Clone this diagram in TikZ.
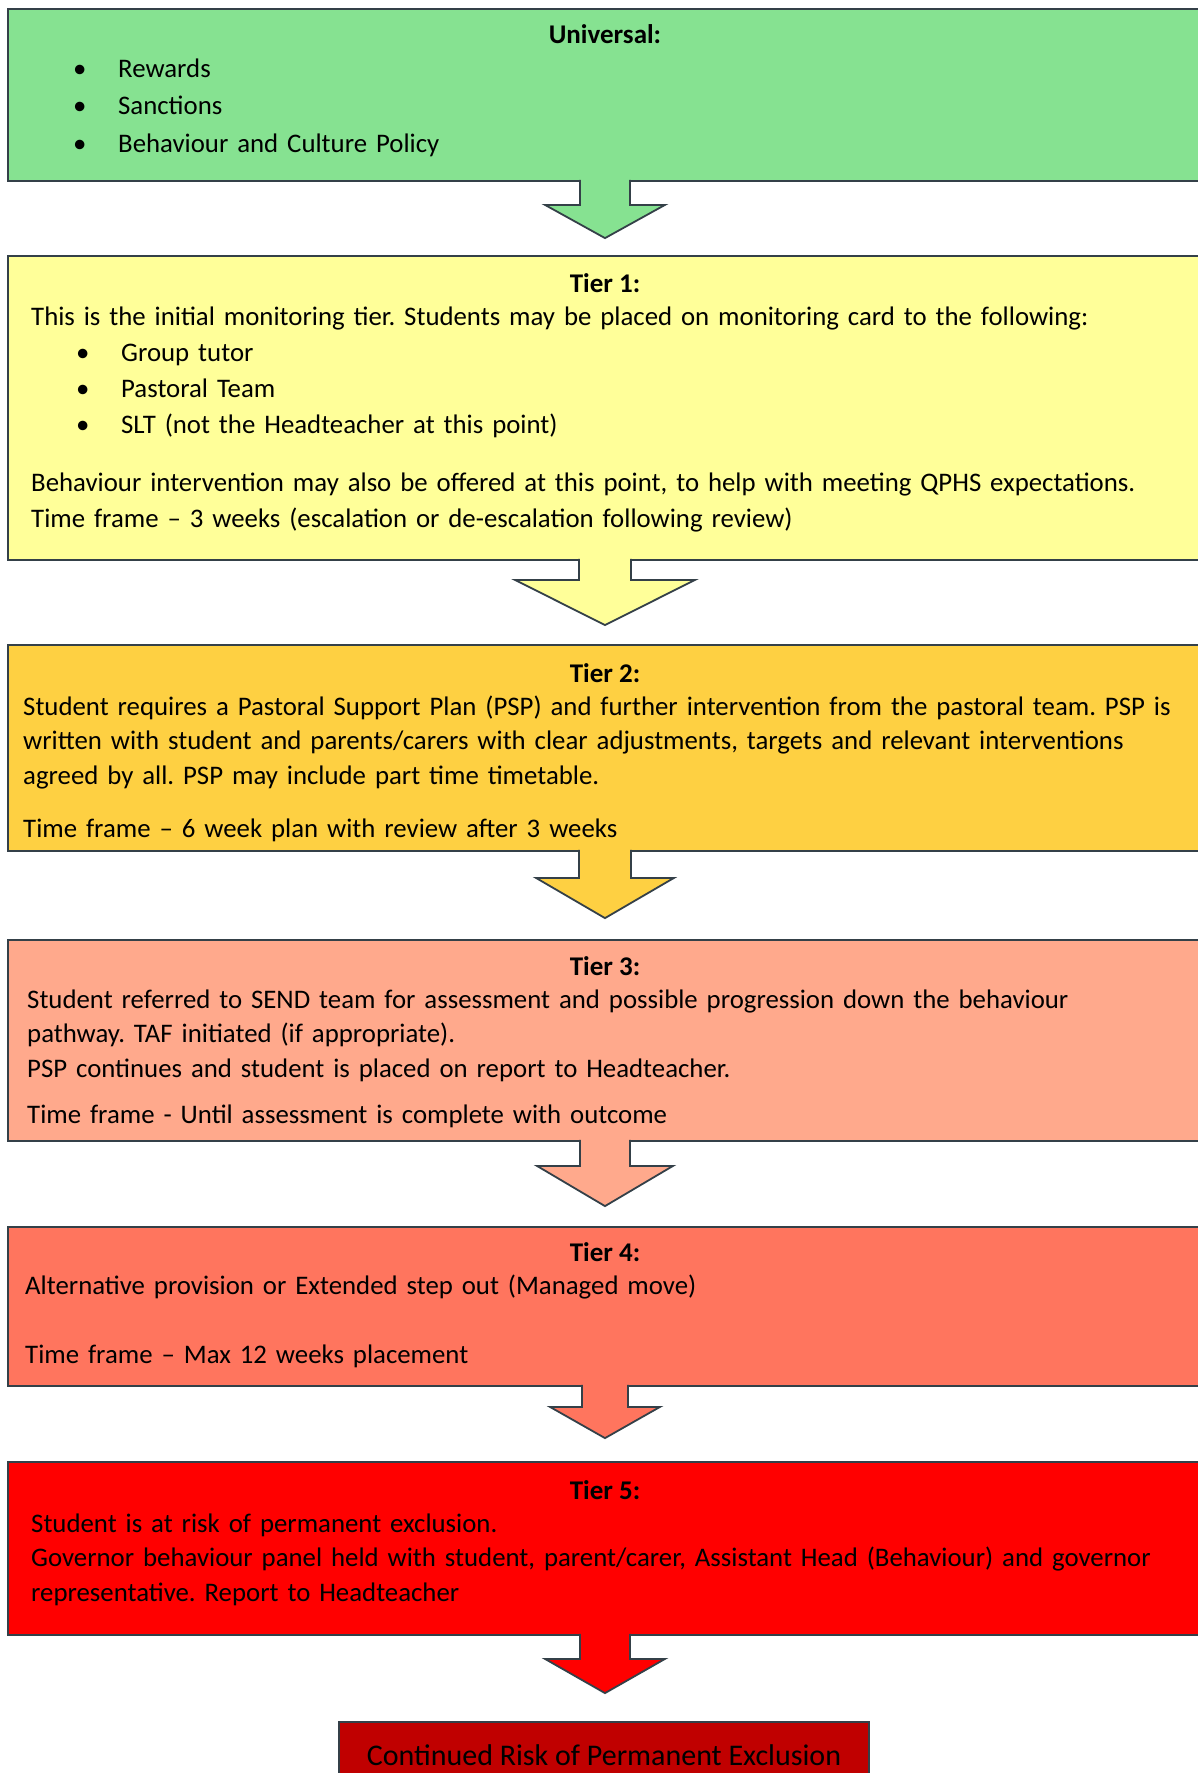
\documentclass[tikz,border=0pt]{standalone}
\usepackage{fontspec}
\setmainfont{Carlito}
\usetikzlibrary{positioning,calc}
\definecolor{univgreen}{RGB}{134,226,145}
\definecolor{tieryellow}{RGB}{255,255,153}
\definecolor{tiergold}{RGB}{254,208,66}
\definecolor{tiersalmon}{RGB}{255,169,140}
\definecolor{tiercoral}{RGB}{255,117,94}
\definecolor{tierred}{RGB}{255,0,0}
\definecolor{exclred}{RGB}{192,0,0}
\definecolor{edgegrey}{RGB}{52,64,72}
\tikzset{tierbox/.style={draw=edgegrey,line width=1.8pt,minimum width=1194pt,inner sep=0pt}}
\tikzset{tierhead/.style={font=\fontsize{27}{34}\selectfont\bfseries,anchor=base,inner sep=0pt}}
\tikzset{tiertext/.style={font=\fontsize{26.8}{34.5}\selectfont,text width=1175pt,align=left,anchor=base west,inner sep=0pt}}
\tikzset{arrowedge/.style={draw=edgegrey,line width=1.8pt,line join=miter}}
\newcommand{\tierbullet}[1]{\makebox[45pt][l]{\textbullet}#1}
% block arrow: from, to, fill, stem half width, wing half width, wing drop, gap above target
\newcommand{\tierarrow}[7]{%
  \coordinate (#1out) at (#1.south);
  \coordinate (#1tip) at ($(#2.north)+(0,-#7)$);
  \coordinate (#1wing) at ($(#1out)+(0,#6)$);
  \fill[#3] ($(#1out)+(-#4,-2)$) -- ($(#1wing)+(-#4,0)$) -- ($(#1wing)+(-#5,0)$) -- (#1out |- #1tip)
    -- ($(#1wing)+(#5,0)$) -- ($(#1wing)+(#4,0)$) -- ($(#1out)+(#4,-2)$) -- cycle;
  \draw[arrowedge] ($(#1out)+(-#4,-2)$) -- ($(#1wing)+(-#4,0)$) -- ($(#1wing)+(-#5,0)$) -- (#1out |- #1tip)
    -- ($(#1wing)+(#5,0)$) -- ($(#1wing)+(#4,0)$) -- ($(#1out)+(#4,-2)$);
}
\frenchspacing

\begin{document}
\begin{tikzpicture}[x=1pt,y=-1pt]
    \useasboundingbox[fill=white] (0,0) rectangle (1198,1773);
    % tiers
    \node[tierbox,fill=univgreen,minimum height=172pt] (universal) at (605,95) {};
    \node[tierbox,fill=tieryellow,minimum height=304pt] (tierone) at (605,408) {};
    \node[tierbox,fill=tiergold,minimum height=206pt] (tiertwo) at (605,748) {};
    \node[tierbox,fill=tiersalmon,minimum height=201pt] (tierthree) at (605,1040.5) {};
    \node[tierbox,fill=tiercoral,minimum height=159pt] (tierfour) at (605,1306.5) {};
    \node[tierbox,fill=tierred,minimum height=173pt] (tierfive) at (605,1548.5) {};
    \node[tierbox,fill=exclred,minimum width=530pt,minimum height=66pt,font=\fontsize{30}{34}\selectfont] (exclusion) at (604,1755) {Continued Risk of Permanent Exclusion};
    % arrows
    \tierarrow{universal}{tierone}{univgreen}{25}{60}{23}{17}
    \tierarrow{tierone}{tiertwo}{tieryellow}{26}{90}{19}{19}
    \tierarrow{tiertwo}{tierthree}{tiergold}{26}{69}{26}{21}
    \tierarrow{tierthree}{tierfour}{tiersalmon}{25}{68}{24}{20}
    \tierarrow{tierfour}{tierfive}{tiercoral}{23}{55}{20}{23}
    \tierarrow{tierfive}{exclusion}{tierred}{25}{60}{23}{28}
    % texts
    \node[tierhead] (universalhead) at (605,43) {Universal:};
    \node[tiertext,font=\fontsize{26.8}{37.5}\selectfont] (universaltext) at (73,77)
        {\tierbullet{Rewards}\\ \tierbullet{Sanctions}\\ \tierbullet{Behaviour and Culture Policy}};
    \node[tierhead] (toneheader) at (605,292) {Tier 1:};
    \node[tiertext,font=\fontsize{26.8}{36}\selectfont] (tonetext) at (31,325)
        {This is the initial monitoring tier. Students may be placed on monitoring card to the following:\\
         \hspace*{45pt}\tierbullet{Group tutor}\\
         \hspace*{45pt}\tierbullet{Pastoral Team}\\
         \hspace*{45pt}\tierbullet{SLT (not the Headteacher at this point)}\\[22pt]
         Behaviour intervention may also be offered at this point, to help with meeting QPHS expectations.\\
         Time frame – 3 weeks (escalation or de-escalation following review)};
    \node[tierhead] (ttwoheader) at (605,682) {Tier 2:};
    \node[tiertext] (ttwotext) at (23,715)
        {Student requires a Pastoral Support Plan (PSP) and further intervention from the pastoral team. PSP is\\
         written with student and parents/carers with clear adjustments, targets and relevant interventions\\
         agreed by all. PSP may include part time timetable.\\[18.5pt]
         Time frame – 6 week plan with review after 3 weeks};
    \node[tierhead] (tthreeheader) at (605,975) {Tier 3:};
    \node[tiertext] (tthreetext) at (27,1008)
        {Student referred to SEND team for assessment and possible progression down the behaviour\\
         pathway. TAF initiated (if appropriate).\\
         PSP continues and student is placed on report to Headteacher.\\[11.5pt]
         Time frame - Until assessment is complete with outcome};
    \node[tierhead] (tfourheader) at (605,1261) {Tier 4:};
    \node[tiertext] (tfourtext) at (25,1294)
        {Alternative provision or Extended step out (Managed move)\\[34.5pt]
         Time frame – Max 12 weeks placement};
    \node[tierhead] (tfiveheader) at (605,1499) {Tier 5:};
    \node[tiertext] (tfivetext) at (31,1532)
        {Student is at risk of permanent exclusion.\\
         Governor behaviour panel held with student, parent/carer, Assistant Head (Behaviour) and governor\\
         representative. Report to Headteacher};
\end{tikzpicture}
\end{document}
